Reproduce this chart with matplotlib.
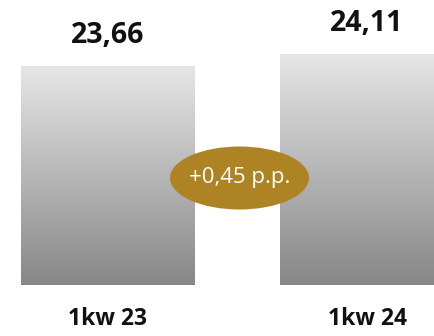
import matplotlib
matplotlib.use("Agg")
import matplotlib.pyplot as plt
import numpy as np
from matplotlib.patches import Ellipse
from matplotlib.colors import LinearSegmentedColormap

categories = ["1kw 23", "1kw 24"]
values = [23.66, 24.11]
value_labels = ["23,66", "24,11"]
diff_label = "+0,45 p.p."

plt.rcParams['font.family'] = ['Open Sans', 'DejaVu Sans']

fig = plt.figure(figsize=(4.34, 3.36), dpi=100)
ax = fig.add_axes([0, 0, 1, 1])
ax.set_axis_off()

base = 15.46
scale = 26.7  # px per unit
ax.set_xlim(-108/259, -108/259 + 434/259)
ybot = base - 51/scale
ax.set_ylim(ybot, ybot + 336/scale)

x = np.arange(len(categories))
width = 174/259
bars = ax.bar(x, np.array(values) - base, bottom=base, width=width,
              color='none', edgecolor='none')

cmap = LinearSegmentedColormap.from_list('g', ['#878787', '#e6e6e6'])
grad = np.linspace(0, 1, 256).reshape(-1, 1)
for b, v in zip(bars, values):
    im = ax.imshow(grad, cmap=cmap, origin='lower', aspect='auto',
                   extent=[b.get_x(), b.get_x() + b.get_width(), base, v],
                   zorder=1)
    im.set_clip_path(b)

for xi, v, lab in zip(x, values, value_labels):
    ax.annotate(lab, (xi, v), xytext=(0, 22), textcoords='offset points',
                ha='center', va='center', fontsize=20.5, fontweight='bold',
                color='#111111')

for xi, lab in zip(x, categories):
    ax.annotate(lab, (xi, base), xytext=(0, -24.5), textcoords='offset points',
                ha='center', va='center', fontsize=16.5, fontweight='bold',
                color='#111111')

ex = (x[0] + x[1]) / 2 + 2/259
ey = base + 107/scale
ell = Ellipse((ex, ey), 139/259, 63/scale, facecolor='#ae8323',
              edgecolor='none', zorder=3)
ax.add_patch(ell)
ax.text(ex, ey, diff_label, ha='center', va='center', fontsize=16,
        color='white', fontweight='normal', zorder=4)

fig.savefig('out.png', dpi=100)
